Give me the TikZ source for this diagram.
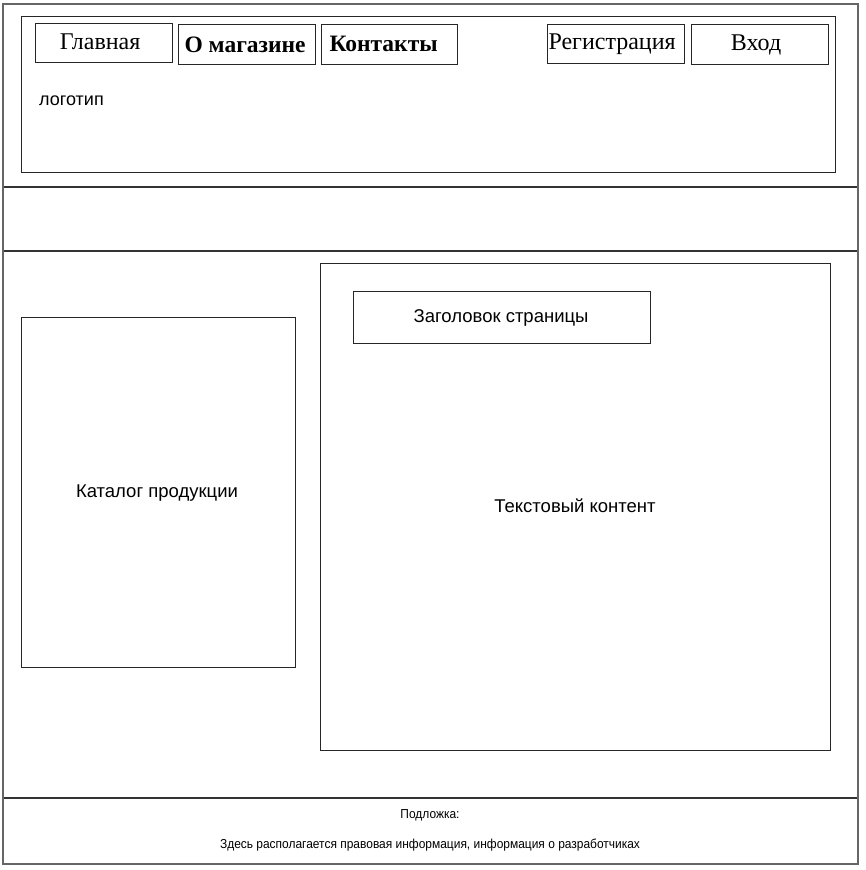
\documentclass[tikz,border=0pt]{standalone}
\usepackage{fontspec}
\setmainfont{Liberation Serif}
\newfontfamily\uisans{Liberation Sans}
\begin{document}
\begin{tikzpicture}[x=1pt,y=-1pt,
  box/.style={draw=black!85,line width=1.2pt,inner sep=0pt,anchor=north west},
  band/.style={draw=black!80,line width=1.2pt},
  navtext/.style={font=\fontsize{24}{26}\selectfont},
  navbold/.style={font=\fontsize{23.5}{26}\selectfont\bfseries},
  sanslabel/.style={font=\uisans\fontsize{18.5}{20}\selectfont},
  tiny/.style={font=\uisans\fontsize{13}{14}\selectfont}]
\useasboundingbox[fill=white] (0,0) rectangle (866,870);
% bands
\draw[band] (3,187) -- (858,187);
\draw[band] (3,251) -- (858,251);
\draw[band] (3,798) -- (858,798);
\draw[draw=gray!80!black,line width=1.5pt] (3,4) rectangle (858,864);
% header
\node[box,minimum width=814pt,minimum height=156pt] (header) at (21,16) {};
\node[box,minimum width=137pt,minimum height=39pt,navtext] (home) at (35,23) {\hspace*{-8pt}\raisebox{2pt}{Главная}};
\node[box,minimum width=137pt,minimum height=40pt,navbold] (about) at (178,24) {\hspace*{-4pt}О магазине};
\node[box,minimum width=136pt,minimum height=40pt,navbold] (contacts) at (321,24) {\hspace*{-12pt}\raisebox{2pt}{Контакты}};
\node[box,minimum width=137pt,minimum height=39pt,navtext] (reg) at (547,24) {\hspace*{-8pt}\raisebox{1pt}{Регистрация}};
\node[box,minimum width=137pt,minimum height=40pt,navtext] (login) at (691,24) {\hspace*{-8pt}\raisebox{1pt}{Вход}};
\node[anchor=west,inner sep=0pt,font=\uisans\fontsize{18}{20}\selectfont] (logo) at (39,101) {логотип};
% main
\node[box,minimum width=274pt,minimum height=350pt] (catalog) at (21,317) {};
\node[sanslabel,inner sep=0pt] (cattext) at (157,493) {Каталог продукции};
\node[box,minimum width=510pt,minimum height=487pt] (content) at (320,263) {};
\node[sanslabel,inner sep=0pt] (text) at (575,506) {Текстовый контент};
\node[box,minimum width=297pt,minimum height=52pt,sanslabel] (title) at (353,291) {\hspace*{-2pt}Заголовок страницы};
% footer
\node[tiny,inner sep=0pt] (sub) at (430,815) {\scalebox{0.92}[1]{Подложка:}};
\node[tiny,inner sep=0pt] (legal) at (430,845) {\scalebox{0.92}[1]{Здесь располагается правовая информация, информация о разработчиках}};
\end{tikzpicture}
\end{document}
